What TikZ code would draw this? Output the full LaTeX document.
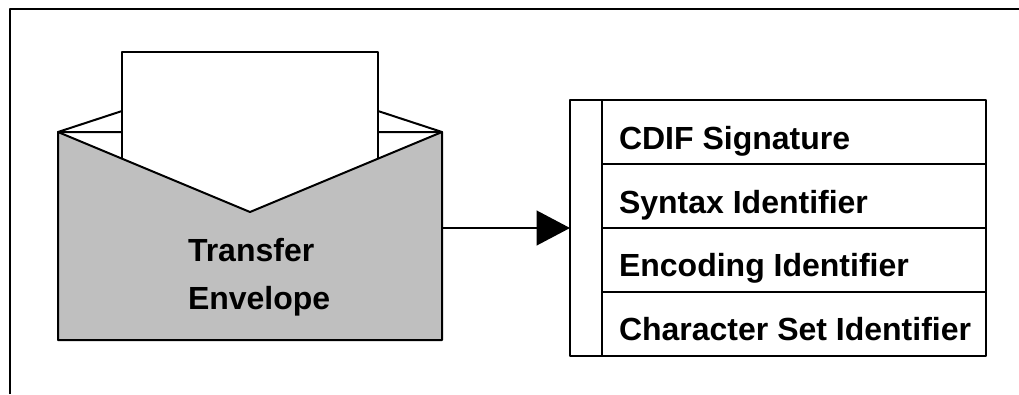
\documentclass[tikz,border=0pt]{standalone}
\usepackage{fontspec}
\setmainfont{Liberation Sans}
\usetikzlibrary{arrows.meta}

\tikzset{every picture/.style={line width=1.5pt}}
\tikzset{label text/.style={anchor=base west,inner sep=0pt,font=\fontsize{24}{28}\selectfont\bfseries}}

\begin{document}
\begin{tikzpicture}[x=0.75pt,y=0.75pt,yscale=-1,line join=round]
	\useasboundingbox (0,0) rectangle (1019,394);
	
	%Frame
	\draw (10,394) -- (10,9) -- (1019,9);
	
	%Envelope back flap
	\draw (58,132) -- (122,111) -- (378,111) -- (442,132) -- cycle;
	%Letter
	\draw [fill=white] (122,212) -- (122,52) -- (378,52) -- (378,212);
	%Envelope front
	\draw [fill=black!25] (58,132) -- (250,212) -- (442,132) -- (442,340) -- (58,340) -- cycle;
	
	%Field table
	\draw (570,100) rectangle (986,356);
	\draw (602,100) -- (602,356);
	\foreach \rowy in {164,228,292}
		\draw (602,\rowy) -- (986,\rowy);
	
	%Connector
	\coordinate (envelopeR) at (442,228);
	\coordinate (tableL) at (570,228);
	\draw [-{Triangle[length=25pt,width=26pt]}] (envelopeR) -- (tableL);
	
	% Text Node
	\node [label text] (transfer) at (187,261) {Transfer};
	% Text Node
	\node [label text] (envelope) at (187,309) {Envelope};
	% Text Node
	\node [label text] (signature) at (618,149) {CDIF Signature};
	% Text Node
	\node [label text] (syntax) at (618,213) {Syntax Identifier};
	% Text Node
	\node [label text] (encoding) at (618,276) {Encoding Identifier};
	% Text Node
	\node [label text] (charset) at (618,340) {Character Set Identifier};
	
\end{tikzpicture}
\end{document}
